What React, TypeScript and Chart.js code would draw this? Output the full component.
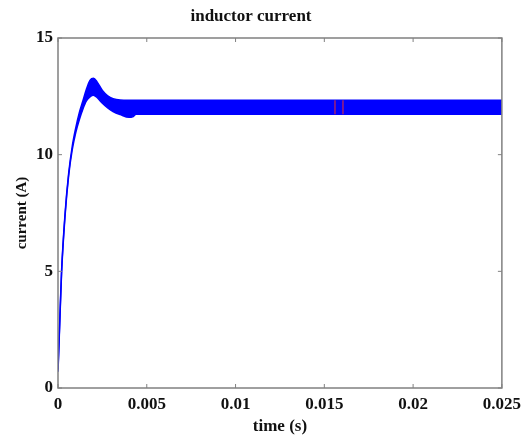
import React, { useEffect, useRef } from 'react';
import { Chart, registerables } from 'chart.js';
Chart.register(...registerables);

const titleText = 'inductor current';
const xTitle = 'time (s)';
const yTitle = 'current (A)';

const xTicks = [0, 0.005, 0.01, 0.015, 0.02, 0.025];
const xTickLabels = ['0', '0.005', '0.01', '0.015', '0.02', '0.025'];
const yTicks = [0, 5, 10, 15];
const yTickLabels = ['0', '5', '10', '15'];

// time samples (s) of the ripple envelope
const timeS = [0, 0.0001, 0.0002, 0.0004, 0.0006, 0.0008, 0.001, 0.0012, 0.0014, 0.0016, 0.0018, 0.002, 0.0022, 0.0025, 0.0028, 0.0031, 0.0035, 0.004, 0.0042, 0.0044, 0.025];
// upper and lower edge of the current band (A)
const upperA = [0.8, 2.9, 5.0, 7.5, 9.2, 10.35, 11.15, 11.8, 12.3, 12.8, 13.18, 13.27, 13.12, 12.75, 12.52, 12.4, 12.34, 12.33, 12.33, 12.33, 12.33];
const lowerA = [0.7, 2.8, 4.9, 7.4, 9.1, 10.2, 10.95, 11.5, 11.95, 12.3, 12.48, 12.55, 12.45, 12.2, 12.0, 11.85, 11.72, 11.6, 11.62, 11.73, 11.73];

// red marker lines
const markerTimes = [0.0156, 0.01605];
const markerLow = 11.73;
const markerHigh = 12.33;

const frameColor = '#808080';

const framePlugin = {
  id: 'matlabFrame',
  afterDatasetsDraw(chart: any) {
    const { ctx, chartArea, scales } = chart;
    const { left, right, top, bottom } = chartArea;
    ctx.save();
    ctx.strokeStyle = frameColor;
    ctx.lineWidth = 1.5;
    ctx.strokeRect(left, top, right - left, bottom - top);
    ctx.lineWidth = 1;
    const tl = 4;
    ctx.beginPath();
    xTicks.forEach((v) => {
      const px = scales.x.getPixelForValue(v);
      ctx.moveTo(px, bottom);
      ctx.lineTo(px, bottom - tl);
      ctx.moveTo(px, top);
      ctx.lineTo(px, top + tl);
    });
    yTicks.forEach((v) => {
      const py = scales.y.getPixelForValue(v);
      ctx.moveTo(left, py);
      ctx.lineTo(left + tl, py);
      ctx.moveTo(right, py);
      ctx.lineTo(right - tl, py);
    });
    ctx.stroke();
    ctx.restore();
  },
};

export default function App() {
  const ref = useRef<HTMLCanvasElement>(null);
  useEffect(() => {
    if (!ref.current) return;
    const upper = timeS.map((t, i) => ({ x: t, y: upperA[i] }));
    const lower = timeS.map((t, i) => ({ x: t, y: lowerA[i] }));
    const markers = markerTimes.map((t) => ({
      type: 'line' as const,
      data: [{ x: t, y: markerLow }, { x: t, y: markerHigh }],
      borderColor: 'rgba(200,40,80,0.8)',
      borderWidth: 1.5,
      pointRadius: 0,
      fill: false,
      order: -1,
    }));
    const font = 'Liberation Serif';
    const chart = new Chart(ref.current, {
      type: 'line',
      data: {
        datasets: [
          {
            data: upper,
            borderColor: '#0000ff',
            backgroundColor: '#0000ff',
            borderWidth: 1.5,
            pointRadius: 0,
            cubicInterpolationMode: 'monotone',
            fill: '+1',
            order: 1,
          },
          {
            data: lower,
            borderColor: '#0000ff',
            backgroundColor: '#0000ff',
            borderWidth: 1.5,
            pointRadius: 0,
            cubicInterpolationMode: 'monotone',
            fill: false,
            order: 1,
          },
          ...markers,
        ] as any,
      },
      options: {
        animation: false,
        responsive: false,
        events: [],
        layout: { padding: { left: 0, right: 25, top: 0, bottom: 0 } },
        plugins: {
          legend: { display: false },
          tooltip: { enabled: false },
          title: {
            display: true,
            text: titleText,
            color: '#111',
            font: { family: font, size: 17, weight: 'bold', lineHeight: 1.2 },
            padding: { top: 6, bottom: 11.6 },
          },
        },
        scales: {
          x: {
            type: 'linear',
            min: 0,
            max: 0.025,
            grid: { display: false, drawTicks: false },
            border: { display: false },
            afterBuildTicks: (s: any) => {
              s.ticks = xTicks.map((v) => ({ value: v }));
            },
            afterFit: (s: any) => {
              s.height = 47;
            },
            ticks: {
              color: '#111',
              padding: 6,
              maxRotation: 0,
              font: { family: font, size: 17, weight: 'bold' },
              callback: (v: any) => {
                const i = xTicks.findIndex((t) => Math.abs(t - v) < 1e-9);
                return i >= 0 ? xTickLabels[i] : '';
              },
            },
            title: {
              display: true,
              text: xTitle,
              color: '#111',
              font: { family: font, size: 17, weight: 'bold', lineHeight: 1 },
              padding: { top: 0, bottom: 0 },
            },
          },
          y: {
            type: 'linear',
            min: 0,
            max: 15,
            grid: { display: false, drawTicks: false },
            border: { display: false },
            afterBuildTicks: (s: any) => {
              s.ticks = yTicks.map((v) => ({ value: v }));
            },
            afterFit: (s: any) => {
              s.width = 58;
            },
            ticks: {
              color: '#111',
              padding: 5,
              font: { family: font, size: 17, weight: 'bold' },
              callback: (v: any) => {
                const i = yTicks.findIndex((t) => Math.abs(t - v) < 1e-9);
                return i >= 0 ? yTickLabels[i] : '';
              },
            },
            title: {
              display: true,
              text: yTitle,
              color: '#111',
              font: { family: font, size: 15, weight: 'bold', lineHeight: 1.2 },
              padding: { top: 13, bottom: 0 },
            },
          },
        },
      },
      plugins: [framePlugin],
    } as any);
    return () => chart.destroy();
  }, []);
  return (
    <div style={{ position: 'fixed', left: 0, top: 0, width: 527, height: 435, background: '#fff' }}>
      <canvas ref={ref} width={527} height={435} style={{ width: 527, height: 435 }} />
    </div>
  );
}
